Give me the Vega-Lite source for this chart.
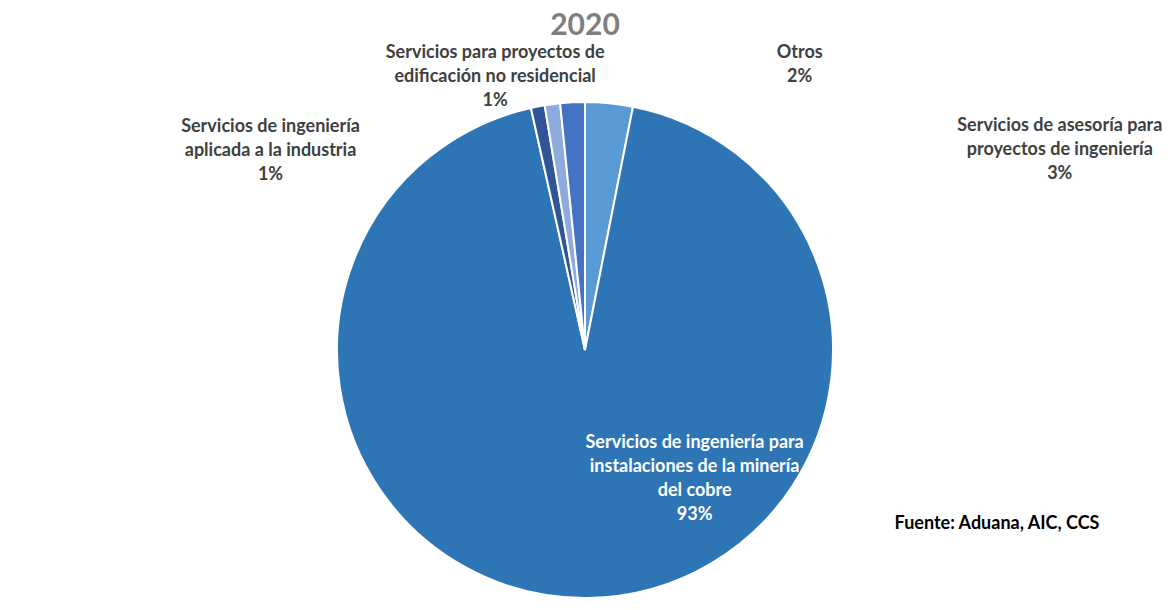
{
  "$schema": "https://vega.github.io/schema/vega-lite/v6.json",
  "autosize": "none",
  "width": 1170,
  "height": 500,
  "padding": {"top": 100, "left": 0, "right": 0, "bottom": 10},
  "background": "white",
  "config": {"view": {"stroke": null}},
  "title": {
    "text": "2020",
    "font": "Lato",
    "fontSize": 30,
    "fontWeight": "bold",
    "color": "#7F7F7F",
    "anchor": "middle",
    "frame": "group",
    "offset": 1
  },
  "data": {
    "values": [
      {"orden": 1, "cat": "Servicios de asesoría para proyectos de ingeniería", "share": 3.1, "etiqueta": "Servicios de asesoría para\nproyectos de ingeniería\n3%"},
      {"orden": 2, "cat": "Servicios de ingeniería para instalaciones de la minería del cobre", "share": 93.4, "etiqueta": "Servicios de ingeniería para\ninstalaciones de la minería\ndel cobre\n93%"},
      {"orden": 3, "cat": "Servicios de ingeniería aplicada a la industria", "share": 0.9, "etiqueta": "Servicios de ingeniería\naplicada a la industria\n1%"},
      {"orden": 4, "cat": "Servicios para proyectos de edificación no residencial", "share": 1.0, "etiqueta": "Servicios para proyectos de\nedificación no residencial\n1%"},
      {"orden": 5, "cat": "Otros", "share": 1.6, "etiqueta": "Otros\n2%"}
    ]
  },
  "encoding": {
    "theta": {"field": "share", "type": "quantitative", "stack": true},
    "order": {"field": "orden", "type": "quantitative"}
  },
  "layer": [
    {
      "mark": {"type": "arc", "outerRadius": 248, "stroke": "white", "strokeWidth": 2},
      "encoding": {
        "color": {
          "field": "cat",
          "type": "nominal",
          "legend": null,
          "scale": {
            "domain": [
              "Servicios de asesoría para proyectos de ingeniería",
              "Servicios de ingeniería para instalaciones de la minería del cobre",
              "Servicios de ingeniería aplicada a la industria",
              "Servicios para proyectos de edificación no residencial",
              "Otros"
            ],
            "range": ["#5B9BD5", "#2E75B6", "#2F5597", "#8FAADC", "#4472C4"]
          }
        }
      }
    },
    {
      "mark": {"type": "text", "radius": 130, "dx": 108, "dy": -37, "lineBreak": "\n", "font": "Lato", "fontWeight": "bold", "fontSize": 18, "lineHeight": 24, "align": "center", "baseline": "middle", "color": "white"},
      "encoding": {
        "text": {"condition": {"test": "datum.orden === 2", "field": "etiqueta"}, "value": ""}
      }
    },
    {
      "mark": {"type": "text", "radius": 265, "dx": 449, "dy": 40, "lineBreak": "\n", "font": "Lato", "fontWeight": "bold", "fontSize": 18, "lineHeight": 24, "align": "center", "baseline": "middle", "color": "#404040"},
      "encoding": {
        "text": {"condition": {"test": "datum.orden === 1", "field": "etiqueta"}, "value": ""}
      }
    },
    {
      "mark": {"type": "text", "radius": 265, "dx": -264, "dy": 37, "lineBreak": "\n", "font": "Lato", "fontWeight": "bold", "fontSize": 18, "lineHeight": 24, "align": "center", "baseline": "middle", "color": "#404040"},
      "encoding": {
        "text": {"condition": {"test": "datum.orden === 3", "field": "etiqueta"}, "value": ""}
      }
    },
    {
      "mark": {"type": "text", "radius": 265, "dx": -55, "dy": -34, "lineBreak": "\n", "font": "Lato", "fontWeight": "bold", "fontSize": 18, "lineHeight": 24, "align": "center", "baseline": "middle", "color": "#404040"},
      "encoding": {
        "text": {"condition": {"test": "datum.orden === 4", "field": "etiqueta"}, "value": ""}
      }
    },
    {
      "mark": {"type": "text", "radius": 265, "dx": 228, "dy": -32, "lineBreak": "\n", "font": "Lato", "fontWeight": "bold", "fontSize": 18, "lineHeight": 24, "align": "center", "baseline": "middle", "color": "#404040"},
      "encoding": {
        "text": {"condition": {"test": "datum.orden === 5", "field": "etiqueta"}, "value": ""}
      }
    },
    {
      "data": {"values": [{"fuente": "Fuente: Aduana, AIC, CCS"}]},
      "mark": {"type": "text", "dx": 412, "dy": 174, "font": "Lato", "fontWeight": "bold", "fontSize": 18, "align": "center", "baseline": "middle", "color": "black"},
      "encoding": {
        "theta": null,
        "order": null,
        "text": {"field": "fuente", "type": "nominal"}
      }
    }
  ]
}
